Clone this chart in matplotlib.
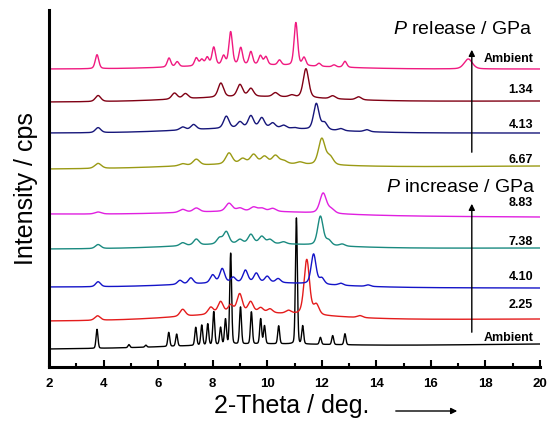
import numpy as np
import matplotlib.pyplot as plt

plt.rcParams['font.family'] = ['Liberation Sans', 'DejaVu Sans']
plt.rcParams['mathtext.fontset'] = 'custom'
plt.rcParams['mathtext.it'] = 'Liberation Sans:italic'
plt.rcParams['mathtext.rm'] = 'Liberation Sans'

# curves from bottom to top
labels = ['Ambient', '2.25', '4.10', '7.38', '8.83', '6.67', '4.13', '1.34', 'Ambient']
colors = ['#000000', '#e41c1c', '#1414c8', '#1a8a80', '#e020e0',
          '#9a9a14', '#16167a', '#800014', '#f01a80']
base_left = [18, 46, 80, 118, 153, 198, 234, 265, 298]
base_right = [23, 48, 79, 119, 150, 201, 234, 266, 298]
hump = [3, 7, 5, 5, 4, 4, 5, 5, 4]
peak_width = [0.035, 0.1, 0.09, 0.1, 0.12, 0.12, 0.1, 0.1, 0.065]

# peaks: [2-theta, height above baseline]
pk_amb_in = [[3.76, 19], [4.93, 3], [5.55, 2], [6.39, 14], [6.68, 12], [7.38, 18],
             [7.6, 20], [7.82, 21], [8.04, 33], [8.29, 17], [8.47, 25], [8.66, 91],
             [9.02, 37], [9.42, 32], [9.76, 25], [9.9, 18], [10.42, 18], [11.07, 126],
             [11.3, 18], [11.95, 7], [12.4, 9], [12.85, 11]]
pk_225 = [[3.78, 4.5], [6.9, 7], [7.93, 7], [8.29, 12], [8.66, 8], [8.99, 19],
          [9.39, 11], [9.76, 5], [10.1, 4], [10.78, 3], [11.45, 55], [11.8, 10],
          [13.4, 2]]
pk_410 = [[3.8, 5], [6.8, 4], [7.2, 6], [8.0, 8], [8.35, 14], [8.75, 5], [9.2, 12],
          [9.6, 9], [10.0, 6], [10.4, 4], [11.7, 30], [12.0, 6], [12.7, 2], [13.7, 1.5]]
pk_738 = [[3.8, 4], [6.9, 3], [7.4, 6], [8.25, 6], [8.5, 12], [9.0, 4], [9.4, 9],
          [9.8, 7], [10.1, 4], [10.6, 2], [11.95, 29], [12.25, 5], [12.75, 2]]
pk_883 = [[3.8, 2], [6.9, 3], [7.4, 4], [8.6, 8], [9.0, 3], [9.5, 4], [9.8, 3],
          [10.2, 3], [12.05, 20], [12.35, 4]]
pk_667 = [[3.8, 5], [6.9, 2], [7.4, 6], [8.6, 11], [9.1, 5], [9.5, 9], [9.9, 7],
          [10.3, 8], [10.6, 3], [11.2, 2], [12.0, 26], [12.3, 8]]
pk_413 = [[3.8, 5], [6.9, 3], [7.3, 5], [8.5, 12], [9.0, 6], [9.4, 12], [9.8, 10],
          [10.2, 5], [10.6, 3], [11.0, 1], [11.8, 26], [12.1, 7], [12.7, 2], [13.65, 2]]
pk_134 = [[3.8, 6], [6.6, 6], [7.0, 5], [8.3, 14], [9.0, 12], [9.4, 8], [10.3, 4],
          [10.9, 2], [11.42, 29], [12.4, 3], [13.35, 3]]
pk_amb_out = [[3.76, 14], [6.4, 9], [6.7, 5], [7.4, 8], [7.6, 6], [7.8, 8], [8.04, 18],
              [8.4, 9], [8.66, 33], [9.03, 17], [9.4, 13], [9.75, 9], [9.95, 8],
              [10.45, 5], [11.05, 43], [11.35, 8], [11.9, 3], [12.45, 2], [12.85, 6],
              [17.37, 10]]
peaks = [pk_amb_in, pk_225, pk_410, pk_738, pk_883, pk_667, pk_413, pk_134, pk_amb_out]

label_y = [29, 62, 90, 125, 164, 207, 242, 277, 308]

tt = np.linspace(2, 20, 4000)


def pv(x, p, h, w, eta=0.35):
    # pseudo-voigt peak
    g = np.exp(-0.5 * ((x - p) / w) ** 2)
    l = 1 / (1 + ((x - p) / (1.177 * w)) ** 2)
    return h * (eta * l + (1 - eta) * g)


fig = plt.figure(figsize=(5.56, 4.28), dpi=100)
ax = fig.add_axes([49/556, 61/428, 491/556, 357/428])

for i in range(len(labels)):
    y = base_left[i] + (base_right[i] - base_left[i]) * (tt - 2) / 18
    y = y + hump[i] * np.exp(-0.5 * ((tt - 9.5) / 2.5) ** 2)
    w = peak_width[i]
    for p, h in peaks[i]:
        ww = 0.15 if p > 17 else w
        y = y + pv(tt, p, h, ww, 0.15 if i == 0 else 0.35)
    ax.plot(tt, y, color=colors[i], lw=1.0)
    ax.text(19.75, label_y[i], labels[i], ha='right', va='center',
            fontsize=9, fontweight='bold')

ax.text(19.74, 337, r'$\it{P}$ release / GPa', ha='right', va='center', fontsize=14)
ax.text(19.82, 179, r'$\it{P}$ increase / GPa', ha='right', va='center', fontsize=14)

ax.annotate('', xy=(17.5, 320), xytext=(17.5, 212),
            arrowprops=dict(arrowstyle='-|>', color='black', lw=1, mutation_scale=9))
ax.annotate('', xy=(17.5, 166), xytext=(17.5, 32),
            arrowprops=dict(arrowstyle='-|>', color='black', lw=1, mutation_scale=9))

ax.set_xlim(2, 20)
ax.set_ylim(0, 357)
ax.set_xticks(np.arange(2, 21, 2))
ax.set_xticks(np.arange(3, 20, 2), minor=True)
ax.set_yticks([])
ax.tick_params(axis='x', which='major', direction='in', length=5, width=1.5, pad=8,
               labelsize=9.5)
ax.tick_params(axis='x', which='minor', direction='in', length=3, width=1.5)
for lab in ax.get_xticklabels():
    lab.set_fontweight('bold')
for s in ['top', 'right']:
    ax.spines[s].set_visible(False)
for s in ['left', 'bottom']:
    ax.spines[s].set_linewidth(2.2)

ax.set_ylabel('Intensity / cps', fontsize=18, labelpad=8)
fig.text(292/556, 1 - 413/428, '2-Theta / deg.', ha='center', va='baseline', fontsize=18)
fig.patches.append(plt.matplotlib.patches.FancyArrowPatch(
    (393/556, 1 - 411/428), (460/556, 1 - 411/428), transform=fig.transFigure,
    arrowstyle='-|>', mutation_scale=9, lw=1, color='black'))

fig.savefig('out.png', dpi=100)
